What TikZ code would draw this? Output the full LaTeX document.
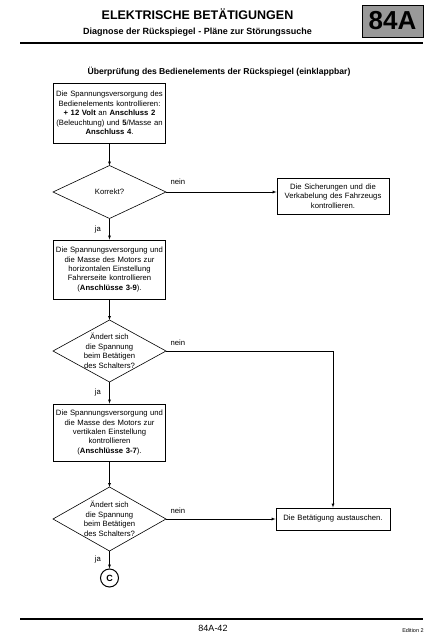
\documentclass[tikz,border=0pt]{standalone}
\usepackage{fontspec}
\setmainfont{Liberation Sans}
\usetikzlibrary{shapes.geometric}

\begin{document}
\begin{tikzpicture}[x=1pt, y=-1pt, >=latex,
  every node/.style={font=\fontsize{7.7}{9.4}\selectfont},
  checkbox/.style={draw, line width=0.9pt, align=center, text width=110pt, inner sep=1pt},
  decision/.style={diamond, draw, line width=0.6pt, minimum width=113pt, inner sep=0pt, outer sep=0pt},
  dtext/.style={align=center, inner sep=0pt, font=\fontsize{7.7}{9.6}\selectfont},
  connector/.style={circle, draw, line width=1pt, minimum size=18pt, inner sep=0pt, font=\bfseries\fontsize{9}{10}\selectfont}]
\useasboundingbox (0,0) rectangle (443,640);

% header
\node[font=\bfseries\fontsize{12.5}{14}\selectfont] (title) at (197.5,14) {ELEKTRISCHE BETÄTIGUNGEN};
\node[font=\bfseries\fontsize{9}{11}\selectfont] (subtitle) at (197.5,32) {Diagnose der Rückspiegel - Pläne zur Störungssuche};
\node[draw, fill=black!40, line width=0.8pt, minimum width=61pt, minimum height=32pt, inner sep=0pt, font=\bfseries\fontsize{26}{30}\selectfont] (chapter) at (392.5,21) {84A};
\draw[line width=2.5pt] (20,43) -- (423,43);

\node[font=\bfseries\fontsize{8.6}{10}\selectfont] (heading) at (219,72) {Überprüfung des Bedienelements der Rückspiegel (einklappbar)};

% flow chart
\node[checkbox, minimum height=60pt] (supply) at (109.5,113) {Die Spannungsversorgung des\\Bedienelements kontrollieren:\\\textbf{+ 12 Volt} an \textbf{Anschluss 2}\\(Beleuchtung) und \textbf{5}/Masse an\\\textbf{Anschluss 4}.};
\node[decision, minimum height=53pt] (correct) at (109.5,192) {Korrekt?};
\node[checkbox, minimum height=36pt] (fuses) at (333,196) {Die Sicherungen und die\\Verkabelung des Fahrzeugs\\kontrollieren.};
\node[checkbox, minimum height=59pt] (horizontal) at (109.5,269.5) {Die Spannungsversorgung und\\die Masse des Motors zur\\horizontalen Einstellung\\Fahrerseite kontrollieren\\(\textbf{Anschlüsse 3-9}).};
\node[decision, minimum height=62pt, label={[dtext]center:{Ändert sich\\die Spannung\\beim Betätigen\\des Schalters?}}] (changeh) at (109.5,351) {};
\node[checkbox, minimum height=57pt] (vertical) at (109.5,432.5) {Die Spannungsversorgung und\\die Masse des Motors zur\\vertikalen Einstellung\\kontrollieren\\(\textbf{Anschlüsse 3-7}).};
\node[decision, minimum height=64pt, label={[dtext]center:{Ändert sich\\die Spannung\\beim Betätigen\\des Schalters?}}] (changev) at (109.5,519) {};
\node[checkbox, text width=112pt, minimum height=22pt] (replace) at (333,519) {Die Betätigung austauschen.};
\node[connector] (cC) at (109.5,578) {C};

\draw[->] (supply) -- (correct);
\draw[->] (correct.east) -- node[pos=0, above right, yshift=4pt, xshift=1pt] {nein} (correct.east -| fuses.west);
\draw[->] (correct) -- node[left, xshift=-5pt] {ja} (horizontal);
\draw[->] (horizontal) -- (changeh);
\draw[->] (changeh.east) -- node[pos=0, above right, yshift=2pt, xshift=1pt] {nein} (changeh.east -| replace.north) -- (replace.north);
\draw[->] (changeh) -- node[left, xshift=-5pt] {ja} (horizontal |- vertical.north);
\draw[->] (vertical) -- (changev);
\draw[->] (changev.east) -- node[pos=0, above right, yshift=2pt, xshift=1pt] {nein} (replace.west);
\draw[->] (changev) -- node[left, xshift=-5pt] {ja} (cC);

% footer
\draw[line width=2.5pt] (20,619) -- (423,619);
\node[font=\fontsize{9}{10}\selectfont] (page) at (213,628) {84A-42};
\node[font=\fontsize{5.5}{6}\selectfont] (edition) at (413,631) {Edition 2};
\end{tikzpicture}
\end{document}
